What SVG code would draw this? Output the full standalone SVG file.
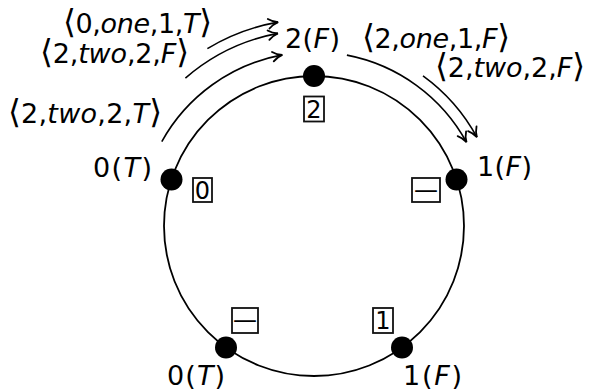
<svg xmlns="http://www.w3.org/2000/svg" width="589" height="390" viewBox="0 0 589 390">
<style>
text{font-family:"DejaVu Sans","Liberation Sans",sans-serif;font-size:27px;fill:#000}
.it{font-style:italic}
.br{font-size:33px}
.ring{fill:none;stroke:#000;stroke-width:1.8}
.arc{fill:none;stroke:#000;stroke-width:1.6;marker-end:url(#ah)}
.dot{fill:#000}
.box{fill:#fff;stroke:#111;stroke-width:1.8}
.bt{font-size:24px;text-anchor:middle}
</style>
<defs>
<marker id="ah" markerUnits="userSpaceOnUse" markerWidth="14" markerHeight="12" viewBox="-9 -5 10 10" refX="0" refY="0" orient="auto" overflow="visible">
<path d="M-8,-4 C-5.5,-1.8 -2.5,-0.6 0,0 C-2.5,0.6 -5.5,1.8 -8,4" fill="none" stroke="#000" stroke-width="1.5" stroke-linecap="round"/>
</marker>
</defs>
<g id="connectors">
<circle class="ring" cx="314" cy="226" r="150"/>
<path class="arc" d="M161.8,141.6 A174,174 0 0 1 282.3,54.9"/>
<path class="arc" d="M185.4,78.1 A196,196 0 0 1 277.9,33.4"/>
<path class="arc" d="M207.4,48.6 A207,207 0 0 1 278.1,22.1"/>
<path class="arc" d="M346.9,55.1 A174,174 0 0 1 466.5,142.2"/>
<path class="arc" d="M423.0,75.9 A185.5,185.5 0 0 1 476.9,137.2"/>
</g>
<g id="arc-labels">
<text x="63" y="33" textLength="149" lengthAdjust="spacing"><tspan class="br">⟨</tspan>0,<tspan class="it">one</tspan>,1,<tspan class="it">T</tspan><tspan class="br">⟩</tspan></text>
<text x="40" y="63" textLength="149" lengthAdjust="spacing"><tspan class="br">⟨</tspan>2,<tspan class="it">two</tspan>,2,<tspan class="it">F</tspan><tspan class="br">⟩</tspan></text>
<text x="8" y="123" textLength="154" lengthAdjust="spacing"><tspan class="br">⟨</tspan>2,<tspan class="it">two</tspan>,2,<tspan class="it">T</tspan><tspan class="br">⟩</tspan></text>
<text x="362" y="48" textLength="148" lengthAdjust="spacing"><tspan class="br">⟨</tspan>2,<tspan class="it">one</tspan>,1,<tspan class="it">F</tspan><tspan class="br">⟩</tspan></text>
<text x="435" y="77" textLength="150" lengthAdjust="spacing"><tspan class="br">⟨</tspan>2,<tspan class="it">two</tspan>,2,<tspan class="it">F</tspan><tspan class="br">⟩</tspan></text>
</g>
<g id="node-top">
<circle class="dot" cx="314" cy="76" r="11"/>
<text x="285" y="48" textLength="55" lengthAdjust="spacing">2(<tspan class="it">F</tspan>)</text>
<rect class="box" x="304" y="96.5" width="20" height="25"/>
<text class="bt" x="314" y="117.5">2</text>
</g>
<g id="node-left">
<circle class="dot" cx="171.5" cy="179.5" r="11"/>
<text x="93" y="177" textLength="59" lengthAdjust="spacing">0(<tspan class="it">T</tspan>)</text>
<rect class="box" x="193" y="178" width="19" height="24"/>
<text class="bt" x="202.5" y="198.5">0</text>
</g>
<g id="node-right">
<circle class="dot" cx="456.5" cy="179.5" r="11"/>
<text x="477" y="176" textLength="55" lengthAdjust="spacing">1(<tspan class="it">F</tspan>)</text>
<rect class="box" x="412" y="178" width="28" height="24"/>
<text class="bt" x="426" y="198">—</text>
</g>
<g id="node-bottom-left">
<circle class="dot" cx="226" cy="347.5" r="11"/>
<text x="167" y="385" textLength="58" lengthAdjust="spacing">0(<tspan class="it">T</tspan>)</text>
<rect class="box" x="232" y="308" width="26" height="25"/>
<text class="bt" x="245" y="328">—</text>
</g>
<g id="node-bottom-right">
<circle class="dot" cx="402" cy="347.5" r="11"/>
<text x="403" y="385" textLength="59" lengthAdjust="spacing">1(<tspan class="it">F</tspan>)</text>
<rect class="box" x="373" y="308" width="20" height="25"/>
<text class="bt" x="383" y="329">1</text>
</g>
</svg>
